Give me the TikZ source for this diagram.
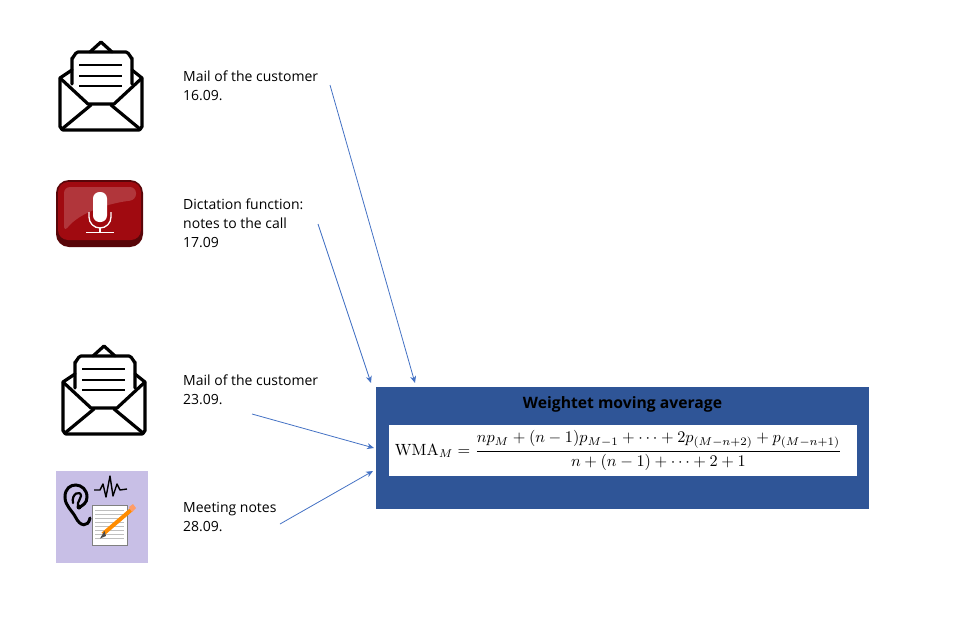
\documentclass[tikz,border=0pt]{standalone}
\usepackage[no-math]{fontspec}
\usepackage{amsmath}
\usepackage{graphicx}
\setmainfont{Open Sans}
\usetikzlibrary{arrows.meta}
\definecolor{boxblue}{HTML}{2F5597}
\definecolor{arrowblue}{HTML}{4472C4}
\definecolor{notebg}{HTML}{C8BFE6}
\definecolor{micred}{HTML}{A00A10}
\tikzset{
  % every label beside an icon
  source/.style={anchor=north west, inner sep=0pt, align=left, font=\fontsize{14}{19}\selectfont},
  feed/.style={draw=arrowblue, line width=0.8pt, -{Stealth[length=7pt,width=6pt]}},
  mailline/.style={line width=3.2pt, line cap=round, line join=round},
}
\newcommand{\mailicon}[2]{%
  \begin{scope}[shift={(#1,#2)}]
    % letter
    \draw[mailline] (72,84) -- (72,58) to[out=-90,in=180] (78,52) -- (126,52) to[out=0,in=-90] (132,58) -- (132,84);
    \draw[mailline] (90,52) -- (101,42) -- (112,52);
    \foreach \liney in {65,76,86}
      \draw[mailline, line width=2.6pt, line cap=butt] (79,\liney) -- (122,\liney);
    % envelope
    \draw[mailline] (72,70) -- (60,78) -- (60,127) to[out=90,in=180] (63,130) -- (139,130) to[out=0,in=90] (142,127) -- (142,78) -- (132,70);
    \draw[mailline] (60,78) -- (88,104) -- (114,104) -- (142,78);
    \draw[mailline] (91,105) -- (62,129);
    \draw[mailline] (111,105) -- (140,129);
  \end{scope}}

\begin{document}
\begin{tikzpicture}[x=1pt,y=-1pt]
  \useasboundingbox (0,0) rectangle (964,616);

  \mailicon{0}{0}
  \mailicon{3}{304}

  % microphone button
  \fill[micred!55!black, rounded corners=13pt] (56,180) rectangle (143,247);
  \fill[micred, rounded corners=10pt] (58,182) rectangle (141,240);
  \fill[white!18!micred, rounded corners=6pt] (64,187) -- (136,187) -- (136,200) .. controls (110,203) and (80,212) .. (64,232) -- cycle;
  \fill[white, rounded corners=6.5pt] (93,192) rectangle (107,222);
  \draw[white, line width=1.3pt] (89,212) -- (89,217) arc[start angle=180, end angle=0, radius=11] -- (111,212);
  \draw[white, line width=1.3pt] (100,228) -- (100,232);
  \draw[white, line width=1.3pt] (86,232.5) -- (114,232.5);

  % meeting notes icon
  \fill[notebg] (56,471) rectangle (148,563);
  \draw[black, line width=3pt, line cap=round] (90,518) .. controls (88,528) and (80,526) .. (76,518) .. controls (72,510) and (65,506) .. (65,497) .. controls (65,480) and (87,482) .. (87,497) .. controls (87,503) and (83,505) .. (80,507);
  \draw[black, line width=2.2pt, line cap=round] (73,503) .. controls (71,493) and (81,490) .. (81,496) .. controls (81,500) and (77,501) .. (78,506);
  \fill[black] (79,507) circle (2.5);
  \draw[black, line width=1.4pt, line join=round] (94,490) -- (100,490) -- (103,484) -- (106,497) -- (110,476) -- (113,496) -- (117,484) -- (120,490) -- (127,489);
  \fill[white] (92,505) rectangle (127,545);
  \draw[gray, line width=0.8pt] (92,505) rectangle (127,545);
  \foreach \notey in {510,514,...,540}
    \draw[gray!50, line width=0.8pt] (95,\notey) -- (124,\notey);
  \draw[orange!90!yellow, line width=4pt] (103,534) -- (131,510);
  \fill[black!70] (100,538.5) -- (104.5,531) -- (106,536) -- cycle;
  \fill[red!30!orange!60!white] (129,507) -- (133,504) -- (136,508) -- (132,512) -- cycle;

  % labels
  \node[source] (mailA) at (183,71) {Mail of the customer\\16.09.};
  \node[source] (dictation) at (183,199) {Dictation function:\\notes to the call\\17.09};
  \node[source] (mailB) at (183,375) {Mail of the customer\\23.09.};
  \node[source] (meeting) at (183,502) {Meeting notes\\28.09.};

  % result box
  \fill[boxblue] (376,387) rectangle (869,509);
  \fill[white] (389,425) rectangle (857,476);
  \node[font=\fontsize{15.7}{18}\selectfont\bfseries] (wmatitle) at (622.5,404) {Weightet moving average};
  \node[inner sep=0pt] (wma) at (618.5,450.5) {\resizebox{447pt}{!}{%
    $\displaystyle \mathrm{WMA}_M=\frac{np_M+(n-1)p_{M-1}+\dots+2p_{(M-n+2)}+p_{(M-n+1)}}{n+(n-1)+\dots+2+1}$}};

  \coordinate (mailAend) at (330,85);
  \coordinate (mailAtip) at (415,383);
  \coordinate (dictend) at (318,224);
  \coordinate (dicttip) at (371,383);
  \coordinate (mailBend) at (252,414);
  \coordinate (mailBtip) at (374,448);
  \coordinate (meetend) at (280,524);
  \coordinate (meettip) at (373,471);
  \draw[feed] (mailAend) -- (mailAtip);
  \draw[feed] (dictend) -- (dicttip);
  \draw[feed] (mailBend) -- (mailBtip);
  \draw[feed] (meetend) -- (meettip);
\end{tikzpicture}
\end{document}
